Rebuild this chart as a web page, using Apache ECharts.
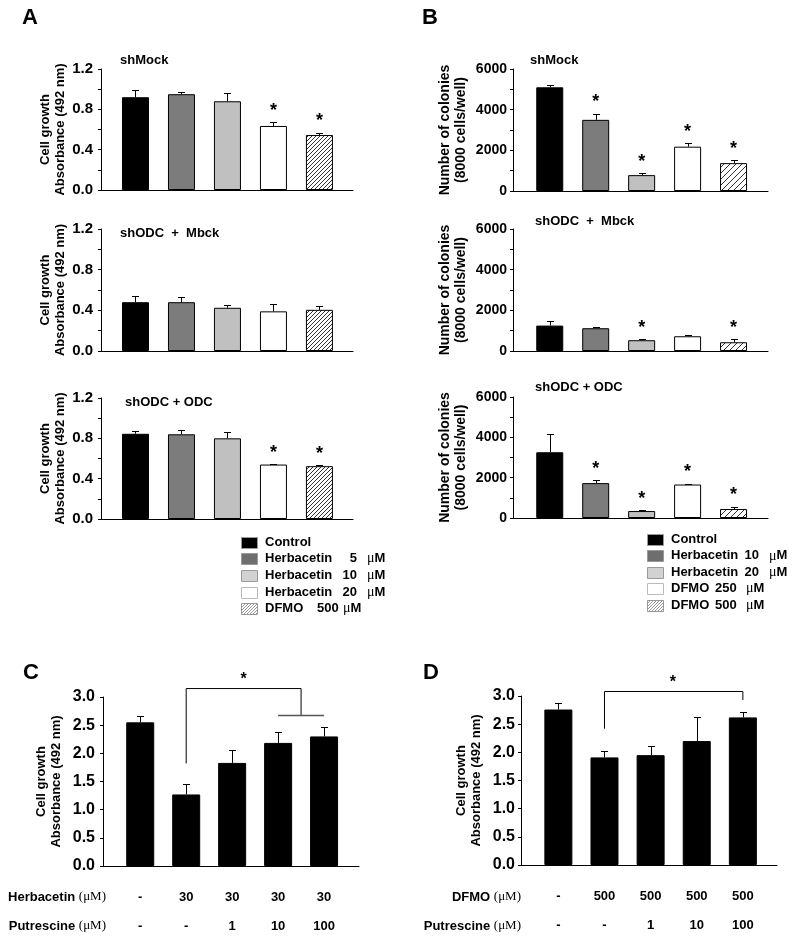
<!DOCTYPE html>
<html><head><meta charset="utf-8">
<script src="https://cdn.jsdelivr.net/npm/echarts@6/dist/echarts.min.js"></script>
<style>html,body{margin:0;padding:0;background:#fff}#c{width:800px;height:940px}</style>
</head><body><div id="c"></div>
<script>
// ---------------- data ----------------
const a1Mean = [0.92, 0.95, 0.88, 0.635, 0.545];
const a1Err  = [0.07, 0.02, 0.08, 0.035, 0.025];
const a1Sig  = [0, 0, 0, 1, 1];
const a2Mean = [0.48, 0.48, 0.425, 0.39, 0.405];
const a2Err  = [0.06, 0.05, 0.03, 0.075, 0.04];
const a2Sig  = [0, 0, 0, 0, 0];
const a3Mean = [0.845, 0.84, 0.80, 0.54, 0.524];
const a3Err  = [0.025, 0.045, 0.065, 0.01, 0.01];
const a3Sig  = [0, 0, 0, 1, 1];
const b1Mean = [5100, 3500, 780, 2180, 1370];
const b1Err  = [110, 310, 90, 170, 160];
const b1Sig  = [0, 1, 1, 1, 1];
const b2Mean = [1250, 1120, 530, 725, 430];
const b2Err  = [215, 80, 75, 65, 145];
const b2Sig  = [0, 0, 1, 0, 1];
const b3Mean = [3260, 1730, 345, 1660, 445];
const b3Err  = [890, 160, 35, 50, 125];
const b3Sig  = [0, 1, 1, 1, 1];
const cMean  = [2.55, 1.27, 1.83, 2.185, 2.30];
const cErr   = [0.11, 0.18, 0.23, 0.20, 0.16];
const dMean  = [2.76, 1.91, 1.95, 2.20, 2.62];
const dErr   = [0.11, 0.12, 0.17, 0.42, 0.09];
const cRow1  = ['-', '30', '30', '30', '30'];
const cRow2  = ['-', '-', '1', '10', '100'];
const dRow1  = ['-', '500', '500', '500', '500'];
const dRow2  = ['-', '-', '1', '10', '100'];
const cRowNames = ['Herbacetin', 'Putrescine'];
const dRowNames = ['DFMO', 'Putrescine'];
const unitText = 'μM';
const titlesA = ['shMock', 'shODC  +  Mbck', 'shODC + ODC'];
const titlesB = ['shMock', 'shODC  +  Mbck', 'shODC + ODC'];
const legendANames = ['Control', 'Herbacetin', 'Herbacetin', 'Herbacetin', 'DFMO'];
const legendADoses = ['', '5', '10', '20', '500'];
const legendBNames = ['Control', 'Herbacetin', 'Herbacetin', 'DFMO', 'DFMO'];
const legendBDoses = ['', '10', '20', '250', '500'];
const ticksA = [0, 1.2, 0.4];
const ticksB = [0, 6000, 2000];
const ticksCD = [0, 3.0, 0.5];
const yNameA = 'Cell growth\nAbsorbance (492 nm)';
const yNameB = 'Number of colonies\n(8000 cells/well)';
const panelLetters = ['A', 'B', 'C', 'D'];
// significance brackets (data coordinates)
const bracketC = {x1: 1, x2: 3.5, yTop: 3.15, y1: 1.82, y2: 2.67, sub: [3, 4], star: [2.25, 3.31]};
const bracketD = {x1: 1, x2: 4, yTop: 3.08, y1: 2.42, y2: 2.93, sub: null, star: [2.48, 3.24]};

// ---------------- styles ----------------
const SANS = '"Liberation Sans", Arial, Helvetica, sans-serif';
const SERIF = '"Liberation Serif", "Times New Roman", serif';

function hatch(size, color, lw) {
  const c = document.createElement('canvas');
  c.width = size; c.height = size;
  const g = c.getContext('2d');
  g.fillStyle = '#fff'; g.fillRect(0, 0, size, size);
  g.strokeStyle = color; g.lineWidth = lw;
  g.beginPath();
  g.moveTo(0, size); g.lineTo(size, 0);
  g.moveTo(-1, 1); g.lineTo(1, -1);
  g.moveTo(size - 1, size + 1); g.lineTo(size + 1, size - 1);
  g.stroke();
  return {image: c, repeat: 'repeat'};
}
const fillsA = ['#000000', '#7c7c7c', '#c0c0c0', '#ffffff', hatch(4, '#333', 1)];
const fillsB = ['#000000', '#7c7c7c', '#c0c0c0', '#ffffff', hatch(6, '#333', 1)];
const fillsLegend = ['#000000', '#6e6e6e', '#d2d2d2', '#ffffff', hatch(3, '#999', 1)];

const grids = [
  {left: 101, top: 69, width: 252, height: 121},   // A1
  {left: 101, top: 229, width: 252, height: 122},  // A2
  {left: 101, top: 398, width: 252, height: 121},  // A3
  {left: 513, top: 69, width: 255, height: 122},   // B1
  {left: 513, top: 229, width: 255, height: 122},  // B2
  {left: 513, top: 397, width: 255, height: 121},  // B3
  {left: 103, top: 697, width: 256, height: 169},  // C
  {left: 521, top: 696, width: 256, height: 169}   // D
];
const xRanges = [[-0.75, 4.73], [-0.75, 4.73], [-0.75, 4.73], [-0.8, 4.75], [-0.8, 4.75], [-0.8, 4.75], [-0.81, 4.76], [-0.81, 4.74]];

function makeX(i) {
  return {
    type: 'value', gridIndex: i, min: xRanges[i][0], max: xRanges[i][1],
    axisLine: {show: true, onZero: false, lineStyle: {color: '#000', width: 1}},
    axisTick: {show: false}, axisLabel: {show: false}, splitLine: {show: false}
  };
}
function makeY(i, t, name, fs, margin, nameGap, nameFs, nameLh, minor, dec) {
  return {
    type: 'value', gridIndex: i, min: t[0], max: t[1], interval: t[2],
    axisLine: {show: true, onZero: false, lineStyle: {color: '#000', width: 1}},
    axisTick: {show: true, inside: false, length: 3, lineStyle: {color: '#000', width: 1}},
    minorTick: {show: minor, splitNumber: 2, length: 3, lineStyle: {color: '#000', width: 1}},
    splitLine: {show: false}, minorSplitLine: {show: false},
    axisLabel: {
      color: '#000', fontWeight: 'bold', fontSize: fs, fontFamily: SANS, margin: margin,
      formatter: v => dec ? Number(v).toFixed(dec) : String(Math.round(v))
    },
    name: name, nameLocation: 'middle', nameRotate: 90, nameGap: nameGap, nameMoveOverlap: false,
    nameTextStyle: {color: '#000', fontWeight: 'bold', fontSize: nameFs, lineHeight: nameLh, fontFamily: SANS, align: 'center'}
  };
}

function barSeries(i, mean, fills, bw) {
  return {
    type: 'bar', xAxisIndex: i, yAxisIndex: i, barWidth: bw, z: 2,
    data: mean.map((v, k) => ({value: [k, v], itemStyle: {color: fills[k]}})),
    itemStyle: {borderColor: '#000', borderWidth: 1},
    emphasis: {disabled: true}, animation: false
  };
}
function errSeries(i, mean, err, sig, starSize, starGap) {
  return {
    type: 'custom', xAxisIndex: i, yAxisIndex: i, z: 5, clip: false, animation: false,
    data: mean.map((v, k) => [k, v, v + err[k], sig ? sig[k] : 0]),
    renderItem(params, api) {
      const x = api.value(0);
      const b = api.coord([x, api.value(1)]);
      const t = api.coord([x, api.value(2)]);
      const cx = Math.round(t[0]) + 0.5, ty = Math.round(t[1]) + 0.5;
      const cap = 3.5;
      const ch = [
        {type: 'line', shape: {x1: cx, y1: b[1], x2: cx, y2: ty}, style: {stroke: '#000', lineWidth: 1}},
        {type: 'line', shape: {x1: cx - cap, y1: ty, x2: cx + cap, y2: ty}, style: {stroke: '#000', lineWidth: 1}}
      ];
      if (api.value(3)) {
        ch.push({type: 'text', x: t[0], y: t[1] - starGap,
          style: {text: '*', fill: '#000', font: 'bold ' + starSize + 'px ' + SANS, align: 'center', verticalAlign: 'middle'}});
      }
      return {type: 'group', children: ch};
    }
  };
}
function rowLabelSeries(i, row1, row2) {
  return {
    type: 'custom', xAxisIndex: i, yAxisIndex: i, clip: false, animation: false, silent: true,
    data: row1.map((t, k) => [k, 0]),
    renderItem(params, api) {
      const p = api.coord([api.value(0), 0]);
      const k = params.dataIndex;
      const st = {fill: '#000', font: 'bold 13px ' + SANS, align: 'center', verticalAlign: 'middle'};
      return {type: 'group', children: [
        {type: 'text', x: p[0], y: p[1] + 31, style: Object.assign({text: row1[k]}, st)},
        {type: 'text', x: p[0], y: p[1] + 60, style: Object.assign({text: row2[k]}, st)}
      ]};
    }
  };
}
function bracketSeries(i, br) {
  return {
    type: 'custom', xAxisIndex: i, yAxisIndex: i, clip: false, animation: false, silent: true,
    data: [[br.x1, br.yTop]],
    renderItem(params, api) {
      const L = api.coord([br.x1, br.yTop]), R = api.coord([br.x2, br.yTop]);
      const l1 = api.coord([br.x1, br.y1]), r1 = api.coord([br.x2, br.y2]);
      const s = api.coord(br.star);
      const ch = [
        {type: 'polyline', shape: {points: [[l1[0], l1[1]], [L[0], L[1]], [R[0], R[1]], [r1[0], r1[1]]]},
          style: {stroke: '#000', lineWidth: 1, fill: null}},
        {type: 'text', x: s[0], y: s[1], style: {text: '*', fill: '#000', font: 'bold 16px ' + SANS, align: 'center', verticalAlign: 'middle'}}
      ];
      if (br.sub) {
        const a = api.coord([br.sub[0], br.y2]), b = api.coord([br.sub[1], br.y2]);
        ch.push({type: 'line', shape: {x1: a[0], y1: a[1], x2: b[0], y2: b[1]}, style: {stroke: '#555', lineWidth: 1.5}});
      }
      return {type: 'group', children: ch};
    }
  };
}

// ---------------- graphic (titles, letters, legends, row names) ----------------
const graphics = [];
function txt(x, y, text, size, align) {
  graphics.push({type: 'text', x: x, y: y, silent: true,
    style: {text: text, fill: '#000', font: 'bold ' + size + 'px ' + SANS, align: align || 'left', verticalAlign: 'middle'}});
}
function muM(x, y) {
  graphics.push({type: 'text', x: x, y: y, silent: true,
    style: {text: '{mu|μ}{m|M}', verticalAlign: 'middle', align: 'left',
      rich: {mu: {font: '14px ' + SERIF, fill: '#000'}, m: {font: 'bold 13px ' + SANS, fill: '#000'}}}});
}
[[30, 18], [430, 18], [31, 673], [431, 673]].forEach((p, k) => txt(p[0], p[1], panelLetters[k], 22, 'center'));
[[120, 60], [120, 233], [125, 402]].forEach((p, k) => txt(p[0], p[1], titlesA[k], 13));
[[530, 60], [535, 221], [535, 387]].forEach((p, k) => txt(p[0], p[1], titlesB[k], 13));

function legend(names, doses, fills, sx, textX, y0, dy, cfg) {
  names.forEach((n, k) => {
    const y = y0 + dy * k;
    graphics.push({type: 'rect', silent: true, shape: {x: sx + 0.5, y: Math.round(y - 5.5) + 0.5, width: 16, height: 11},
      style: {fill: fills[k], stroke: k === 3 ? '#bbb' : '#999', lineWidth: 1}});
    txt(textX, y, n, 13);
    if (!doses[k]) return;
    if (n === 'Herbacetin') {
      txt(cfg.doseRight, y, doses[k], 13, 'right');
      muM(cfg.unitX, y);
    } else {
      txt(cfg.altDoseX, y, doses[k], 13);
      muM(cfg.altUnitX, y);
    }
  });
}
legend(legendANames, legendADoses, fillsLegend, 241, 265, 542, 16.7, {doseRight: 357, unitX: 367, altDoseX: 317, altUnitX: 343});
legend(legendBNames, legendBDoses, fillsLegend, 647, 671, 539.5, 16.4, {doseRight: 759, unitX: 769, altDoseX: 715, altUnitX: 746});

function rowName(xRight, y, name) {
  graphics.push({type: 'text', x: xRight, y: y, silent: true,
    style: {text: '{b|' + name + ' }{s|(' + unitText + ')}', align: 'right', verticalAlign: 'middle',
      rich: {b: {font: 'bold 13px ' + SANS, fill: '#000'}, s: {font: '13px ' + SERIF, fill: '#000'}}}});
}
rowName(106, 897, cRowNames[0]); rowName(106, 926, cRowNames[1]);
rowName(521, 897, dRowNames[0]); rowName(521, 926, dRowNames[1]);

// ---------------- option ----------------
const option = {
  animation: false,
  backgroundColor: '#fff',
  grid: grids.map(g => Object.assign({containLabel: false, outerBoundsMode: 'none'}, g)),
  xAxis: grids.map((g, i) => makeX(i)),
  yAxis: [
    makeY(0, ticksA, yNameA, 15, 8, 33, 13, 15, true, 1),
    makeY(1, ticksA, yNameA, 15, 8, 33, 13, 15, true, 1),
    makeY(2, ticksA, yNameA, 15, 8, 33, 13, 15, true, 1),
    makeY(3, ticksB, yNameB, 14, 6, 44, 14, 16, true, 0),
    makeY(4, ticksB, yNameB, 14, 6, 44, 14, 16, true, 0),
    makeY(5, ticksB, yNameB, 14, 6, 44, 14, 16, true, 0),
    makeY(6, ticksCD, yNameA, 16, 8, 39, 13, 15, false, 1),
    makeY(7, ticksCD, yNameA, 16, 6, 37, 13, 15, false, 1)
  ],
  series: [
    barSeries(0, a1Mean, fillsA, 27), errSeries(0, a1Mean, a1Err, a1Sig, 18, 11),
    barSeries(1, a2Mean, fillsA, 27), errSeries(1, a2Mean, a2Err, a2Sig, 18, 11),
    barSeries(2, a3Mean, fillsA, 27), errSeries(2, a3Mean, a3Err, a3Sig, 18, 11),
    barSeries(3, b1Mean, fillsB, 27), errSeries(3, b1Mean, b1Err, b1Sig, 18, 11),
    barSeries(4, b2Mean, fillsB, 27), errSeries(4, b2Mean, b2Err, b2Sig, 18, 11),
    barSeries(5, b3Mean, fillsB, 27), errSeries(5, b3Mean, b3Err, b3Sig, 18, 11),
    barSeries(6, cMean, cMean.map(() => '#000'), 28), errSeries(6, cMean, cErr, null, 18, 11),
    barSeries(7, dMean, dMean.map(() => '#000'), 28), errSeries(7, dMean, dErr, null, 18, 11),
    rowLabelSeries(6, cRow1, cRow2), rowLabelSeries(7, dRow1, dRow2),
    bracketSeries(6, bracketC), bracketSeries(7, bracketD)
  ],
  graphic: graphics
};
const chart = echarts.init(document.getElementById('c'), null, {renderer: 'canvas', width: 800, height: 940});
chart.setOption(option);
</script>
</body></html>
